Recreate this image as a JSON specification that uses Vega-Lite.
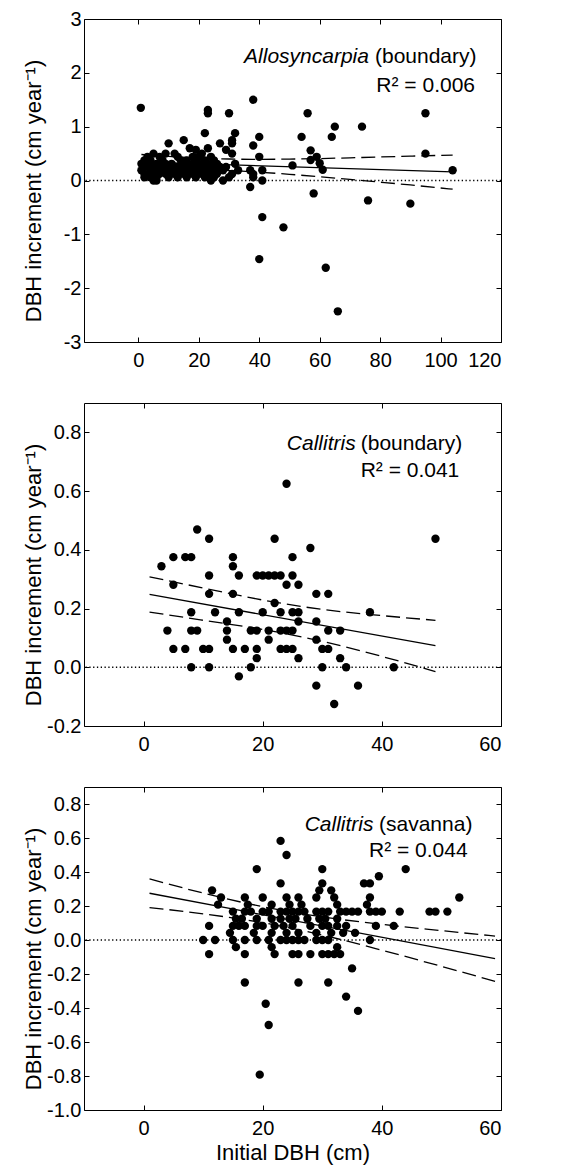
{
  "$schema": "https://vega.github.io/schema/vega-lite/v6.json",
  "padding": {"left": 21, "top": 8, "right": 5, "bottom": 5},
  "bounds": "flush",
  "spacing": 61,
  "config": {
    "font": "Liberation Sans",
    "view": {"stroke": "black", "strokeWidth": 1},
    "axis": {
      "grid": false, "domain": false, "ticks": true, "tickSize": -5, "tickColor": "black", "tickWidth": 1,
      "labelFont": "Liberation Sans", "labelFontSize": 20, "labelColor": "black",
      "titleFont": "Liberation Sans", "titleFontSize": 22, "titleFontWeight": "normal", "titleColor": "black"
    },
    "axisX": {"labelPadding": 13, "titlePadding": 4},
    "axisY": {"labelPadding": 8, "titlePadding": 9, "minExtent": 30, "maxExtent": 30, "titleY": 171.5},
    "text": {"font": "Liberation Sans", "fontSize": 21, "color": "black", "baseline": "alphabetic"}
  },
  "vconcat": [
    {
      "width": 417, "height": 323,
      "resolve": {"axis": {"x": "independent", "y": "independent"}},
      "layer": [
        {
          "data": {"values": [{}]},
          "mark": {"type": "rule", "strokeDash": [1.3, 2.5], "strokeWidth": 1.3, "color": "black"},
          "encoding": {"y": {"datum": 0, "type": "quantitative", "axis": null}}
        },
        {
          "data": {"values": [
            {"dbh": 0.8, "inc": 1.35}, {"dbh": 38, "inc": 1.5}, {"dbh": 23, "inc": 1.31}, {"dbh": 23, "inc": 1.25}, {"dbh": 30, "inc": 1.25}, {"dbh": 56, "inc": 1.25}, {"dbh": 95, "inc": 1.25}, {"dbh": 65, "inc": 1.0}, {"dbh": 74, "inc": 1.0}, {"dbh": 54, "inc": 0.81}, {"dbh": 64, "inc": 0.81}, {"dbh": 40, "inc": 0.81}, {"dbh": 22, "inc": 0.88}, {"dbh": 32, "inc": 0.88}, {"dbh": 31, "inc": 0.75}, {"dbh": 31, "inc": 0.69}, {"dbh": 15, "inc": 0.75}, {"dbh": 10, "inc": 0.69}, {"dbh": 27, "inc": 0.69}, {"dbh": 38, "inc": 0.65}, {"dbh": 17, "inc": 0.6}, {"dbh": 19, "inc": 0.57}, {"dbh": 23, "inc": 0.6}, {"dbh": 29, "inc": 0.57}, {"dbh": 5, "inc": 0.5}, {"dbh": 9, "inc": 0.5}, {"dbh": 12, "inc": 0.5}, {"dbh": 21, "inc": 0.5}, {"dbh": 31, "inc": 0.5}, {"dbh": 40, "inc": 0.44}, {"dbh": 57, "inc": 0.56}, {"dbh": 59, "inc": 0.44}, {"dbh": 57, "inc": 0.38}, {"dbh": 60, "inc": 0.32}, {"dbh": 51, "inc": 0.28}, {"dbh": 61, "inc": 0.2}, {"dbh": 95, "inc": 0.5}, {"dbh": 104, "inc": 0.19},
            {"dbh": 32, "inc": 0.31}, {"dbh": 33, "inc": 0.19}, {"dbh": 31, "inc": 0.12}, {"dbh": 37, "inc": 0.19}, {"dbh": 38, "inc": 0.12}, {"dbh": 38, "inc": 0.06}, {"dbh": 41, "inc": 0.19}, {"dbh": 41, "inc": 0.0}, {"dbh": 37, "inc": -0.12}, {"dbh": 28, "inc": 0.0},
            {"dbh": 58, "inc": -0.24}, {"dbh": 76, "inc": -0.37}, {"dbh": 90, "inc": -0.43}, {"dbh": 41, "inc": -0.68}, {"dbh": 48, "inc": -0.87}, {"dbh": 40, "inc": -1.46}, {"dbh": 62, "inc": -1.62}, {"dbh": 66, "inc": -2.43},
            {"dbh": 3, "inc": 0.44}, {"dbh": 7, "inc": 0.44}, {"dbh": 13, "inc": 0.44}, {"dbh": 18, "inc": 0.44}, {"dbh": 20, "inc": 0.44}, {"dbh": 24, "inc": 0.44},
            {"dbh": 2, "inc": 0.375}, {"dbh": 4, "inc": 0.375}, {"dbh": 8, "inc": 0.375}, {"dbh": 14, "inc": 0.375}, {"dbh": 16, "inc": 0.375}, {"dbh": 19, "inc": 0.375}, {"dbh": 22, "inc": 0.375}, {"dbh": 25, "inc": 0.375},
            {"dbh": 1, "inc": 0.31}, {"dbh": 3, "inc": 0.31}, {"dbh": 6, "inc": 0.31}, {"dbh": 9, "inc": 0.31}, {"dbh": 11, "inc": 0.31}, {"dbh": 15, "inc": 0.31}, {"dbh": 18, "inc": 0.31}, {"dbh": 21, "inc": 0.31}, {"dbh": 23, "inc": 0.31}, {"dbh": 26, "inc": 0.31},
            {"dbh": 2, "inc": 0.25}, {"dbh": 5, "inc": 0.25}, {"dbh": 7, "inc": 0.25}, {"dbh": 10, "inc": 0.25}, {"dbh": 13, "inc": 0.25}, {"dbh": 16, "inc": 0.25}, {"dbh": 19, "inc": 0.25}, {"dbh": 22, "inc": 0.25}, {"dbh": 24, "inc": 0.25}, {"dbh": 27, "inc": 0.25}, {"dbh": 29, "inc": 0.25},
            {"dbh": 1, "inc": 0.19}, {"dbh": 4, "inc": 0.19}, {"dbh": 6, "inc": 0.19}, {"dbh": 8, "inc": 0.19}, {"dbh": 11, "inc": 0.19}, {"dbh": 14, "inc": 0.19}, {"dbh": 17, "inc": 0.19}, {"dbh": 20, "inc": 0.19}, {"dbh": 23, "inc": 0.19}, {"dbh": 25, "inc": 0.19}, {"dbh": 28, "inc": 0.19},
            {"dbh": 2, "inc": 0.125}, {"dbh": 5, "inc": 0.125}, {"dbh": 7, "inc": 0.125}, {"dbh": 9, "inc": 0.125}, {"dbh": 12, "inc": 0.125}, {"dbh": 15, "inc": 0.125}, {"dbh": 18, "inc": 0.125}, {"dbh": 21, "inc": 0.125}, {"dbh": 24, "inc": 0.125}, {"dbh": 26, "inc": 0.125},
            {"dbh": 2, "inc": 0.06}, {"dbh": 4, "inc": 0.06}, {"dbh": 6, "inc": 0.06}, {"dbh": 10, "inc": 0.06}, {"dbh": 13, "inc": 0.06}, {"dbh": 16, "inc": 0.06}, {"dbh": 19, "inc": 0.06}, {"dbh": 22, "inc": 0.06}, {"dbh": 25, "inc": 0.06}, {"dbh": 30, "inc": 0.06},
            {"dbh": 5, "inc": 0.0}, {"dbh": 6, "inc": 0.0}, {"dbh": 24, "inc": 0.0}
          ]},
          "mark": {"type": "circle", "size": 70, "color": "black", "opacity": 1},
          "encoding": {
            "x": {"field": "dbh", "type": "quantitative", "scale": {"domain": [-18, 120], "nice": false, "zero": false},
                  "axis": {"orient": "bottom", "values": [0, 20, 40, 60, 80, 100, 120], "title": null}},
            "y": {"field": "inc", "type": "quantitative", "scale": {"domain": [-3, 3], "nice": false, "zero": false},
                  "axis": {"orient": "left", "values": [-3, -2, -1, 0, 1, 2, 3], "title": "DBH increment (cm year⁻¹)", "labelExpr": "replace(datum.label, '−', '-')"}}
          }
        },
        {
          "data": {"values": [{"dbh": 1, "inc": 0.344}, {"dbh": 104, "inc": 0.16}]},
          "mark": {"type": "line", "color": "black", "strokeWidth": 1.3},
          "encoding": {
            "x": {"field": "dbh", "type": "quantitative", "axis": {"orient": "top", "labels": false, "title": null, "values": [0, 20, 40, 60, 80, 100, 120]}},
            "y": {"field": "inc", "type": "quantitative", "axis": {"orient": "right", "labels": false, "title": null, "values": [-3, -2, -1, 0, 1, 2, 3]}}
          }
        },
        {
          "data": {"values": [
            {"band": "upper", "dbh": 1, "inc": 0.483}, {"band": "upper", "dbh": 10, "inc": 0.447}, {"band": "upper", "dbh": 20, "inc": 0.417}, {"band": "upper", "dbh": 30, "inc": 0.399}, {"band": "upper", "dbh": 40, "inc": 0.393}, {"band": "upper", "dbh": 50, "inc": 0.398}, {"band": "upper", "dbh": 60, "inc": 0.407}, {"band": "upper", "dbh": 70, "inc": 0.421}, {"band": "upper", "dbh": 80, "inc": 0.437}, {"band": "upper", "dbh": 90, "inc": 0.453}, {"band": "upper", "dbh": 104, "inc": 0.472},
            {"band": "lower", "dbh": 1, "inc": 0.205}, {"band": "lower", "dbh": 10, "inc": 0.209}, {"band": "lower", "dbh": 20, "inc": 0.203}, {"band": "lower", "dbh": 30, "inc": 0.185}, {"band": "lower", "dbh": 40, "inc": 0.155}, {"band": "lower", "dbh": 50, "inc": 0.115}, {"band": "lower", "dbh": 60, "inc": 0.069}, {"band": "lower", "dbh": 70, "inc": 0.019}, {"band": "lower", "dbh": 80, "inc": -0.031}, {"band": "lower", "dbh": 90, "inc": -0.083}, {"band": "lower", "dbh": 104, "inc": -0.162}
          ]},
          "mark": {"type": "line", "color": "black", "strokeWidth": 1.3, "strokeDash": [14, 6], "interpolate": "monotone"},
          "encoding": {
            "x": {"field": "dbh", "type": "quantitative", "axis": null},
            "y": {"field": "inc", "type": "quantitative", "axis": null},
            "detail": {"field": "band"}
          }
        },
        {
          "data": {"values": [{}]},
          "mark": {"type": "text", "text": "Allosyncarpia", "fontStyle": "italic", "align": "right"},
          "encoding": {"x": {"datum": 76.3, "type": "quantitative", "axis": null}, "y": {"datum": 2.18, "type": "quantitative", "axis": null}}
        },
        {
          "data": {"values": [{}]},
          "mark": {"type": "text", "text": "(boundary)", "align": "right"},
          "encoding": {"x": {"datum": 111.9, "type": "quantitative", "axis": null}, "y": {"datum": 2.18, "type": "quantitative", "axis": null}}
        },
        {
          "data": {"values": [{}]},
          "mark": {"type": "text", "text": "R² = 0.006", "align": "right"},
          "encoding": {"x": {"datum": 111.4, "type": "quantitative", "axis": null}, "y": {"datum": 1.65, "type": "quantitative", "axis": null}}
        }
      ]
    },
    {
      "width": 417, "height": 323,
      "resolve": {"axis": {"x": "independent", "y": "independent"}},
      "layer": [
        {
          "data": {"values": [{}]},
          "mark": {"type": "rule", "strokeDash": [1.3, 2.5], "strokeWidth": 1.3, "color": "black"},
          "encoding": {"y": {"datum": 0, "type": "quantitative", "axis": null}}
        },
        {
          "data": {"values": [
            {"dbh": 3, "inc": 0.344}, {"dbh": 5, "inc": 0.375}, {"dbh": 7, "inc": 0.375}, {"dbh": 8, "inc": 0.375}, {"dbh": 9, "inc": 0.469}, {"dbh": 11, "inc": 0.4375}, {"dbh": 5, "inc": 0.281}, {"dbh": 11, "inc": 0.3125}, {"dbh": 11, "inc": 0.25}, {"dbh": 8, "inc": 0.1875}, {"dbh": 8, "inc": 0.125}, {"dbh": 9, "inc": 0.125}, {"dbh": 4, "inc": 0.125}, {"dbh": 5, "inc": 0.0625}, {"dbh": 7, "inc": 0.0625}, {"dbh": 8, "inc": 0}, {"dbh": 10, "inc": 0.0625}, {"dbh": 11, "inc": 0.0625}, {"dbh": 11, "inc": 0}, {"dbh": 12, "inc": 0.1875},
            {"dbh": 15, "inc": 0.375}, {"dbh": 15, "inc": 0.344}, {"dbh": 15, "inc": 0.25}, {"dbh": 16, "inc": 0.3125}, {"dbh": 16, "inc": 0.1875}, {"dbh": 14, "inc": 0.156}, {"dbh": 14, "inc": 0.125}, {"dbh": 14, "inc": 0.094}, {"dbh": 15, "inc": 0.0625}, {"dbh": 17, "inc": 0.0625}, {"dbh": 16, "inc": -0.031}, {"dbh": 18, "inc": 0.125}, {"dbh": 18, "inc": 0}, {"dbh": 19, "inc": 0.125}, {"dbh": 19, "inc": 0.0625}, {"dbh": 19, "inc": 0.031},
            {"dbh": 19, "inc": 0.3125}, {"dbh": 20, "inc": 0.3125}, {"dbh": 21, "inc": 0.3125}, {"dbh": 22, "inc": 0.3125}, {"dbh": 23, "inc": 0.3125}, {"dbh": 22, "inc": 0.4375}, {"dbh": 22, "inc": 0.219}, {"dbh": 20, "inc": 0.1875}, {"dbh": 21, "inc": 0.125}, {"dbh": 21, "inc": 0.094}, {"dbh": 23, "inc": 0.1875}, {"dbh": 23, "inc": 0.125}, {"dbh": 24, "inc": 0.125}, {"dbh": 25, "inc": 0.125}, {"dbh": 23, "inc": 0.0625}, {"dbh": 24, "inc": 0.0625}, {"dbh": 25, "inc": 0.0625},
            {"dbh": 24, "inc": 0.625}, {"dbh": 24, "inc": 0.281}, {"dbh": 25, "inc": 0.375}, {"dbh": 25, "inc": 0.3125}, {"dbh": 25, "inc": 0.1875}, {"dbh": 26, "inc": 0.1875}, {"dbh": 26, "inc": 0.281}, {"dbh": 26, "inc": 0.156}, {"dbh": 26, "inc": 0.031}, {"dbh": 28, "inc": 0.406},
            {"dbh": 29, "inc": 0.25}, {"dbh": 29, "inc": 0.156}, {"dbh": 29, "inc": 0.094}, {"dbh": 29, "inc": -0.0625}, {"dbh": 30, "inc": 0.0625}, {"dbh": 30, "inc": 0}, {"dbh": 31, "inc": 0.25}, {"dbh": 31, "inc": 0.125}, {"dbh": 31, "inc": 0.0625}, {"dbh": 32, "inc": -0.125}, {"dbh": 33, "inc": 0.125}, {"dbh": 33, "inc": 0.031}, {"dbh": 34, "inc": 0}, {"dbh": 36, "inc": -0.0625}, {"dbh": 38, "inc": 0.1875}, {"dbh": 42, "inc": 0}, {"dbh": 49, "inc": 0.4375}
          ]},
          "mark": {"type": "circle", "size": 70, "color": "black", "opacity": 1},
          "encoding": {
            "x": {"field": "dbh", "type": "quantitative", "scale": {"domain": [-10, 60], "nice": false, "zero": false},
                  "axis": {"orient": "bottom", "values": [0, 20, 40, 60], "title": null}},
            "y": {"field": "inc", "type": "quantitative", "scale": {"domain": [-0.2, 0.9], "nice": false, "zero": false},
                  "axis": {"orient": "left", "values": [-0.2, 0, 0.2, 0.4, 0.6, 0.8], "format": ".1f", "title": "DBH increment (cm year⁻¹)", "labelExpr": "replace(datum.label, '−', '-')"}}
          }
        },
        {
          "data": {"values": [{"dbh": 1, "inc": 0.248}, {"dbh": 49, "inc": 0.074}]},
          "mark": {"type": "line", "color": "black", "strokeWidth": 1.3},
          "encoding": {
            "x": {"field": "dbh", "type": "quantitative", "axis": {"orient": "top", "labels": false, "title": null, "values": [0, 20, 40, 60]}},
            "y": {"field": "inc", "type": "quantitative", "axis": {"orient": "right", "labels": false, "title": null, "values": [-0.2, 0, 0.2, 0.4, 0.6, 0.8]}}
          }
        },
        {
          "data": {"values": [
            {"band": "upper", "dbh": 1, "inc": 0.308}, {"band": "upper", "dbh": 10, "inc": 0.270}, {"band": "upper", "dbh": 20, "inc": 0.229}, {"band": "upper", "dbh": 30, "inc": 0.197}, {"band": "upper", "dbh": 40, "inc": 0.176}, {"band": "upper", "dbh": 49, "inc": 0.160},
            {"band": "lower", "dbh": 1, "inc": 0.188}, {"band": "lower", "dbh": 10, "inc": 0.160}, {"band": "lower", "dbh": 20, "inc": 0.129}, {"band": "lower", "dbh": 30, "inc": 0.088}, {"band": "lower", "dbh": 40, "inc": 0.037}, {"band": "lower", "dbh": 49, "inc": -0.015}
          ]},
          "mark": {"type": "line", "color": "black", "strokeWidth": 1.3, "strokeDash": [14, 6], "interpolate": "monotone"},
          "encoding": {
            "x": {"field": "dbh", "type": "quantitative", "axis": null},
            "y": {"field": "inc", "type": "quantitative", "axis": null},
            "detail": {"field": "band"}
          }
        },
        {
          "data": {"values": [{}]},
          "mark": {"type": "text", "text": "Callitris", "fontStyle": "italic", "align": "right"},
          "encoding": {"x": {"datum": 35.6, "type": "quantitative", "axis": null}, "y": {"datum": 0.739, "type": "quantitative", "axis": null}}
        },
        {
          "data": {"values": [{}]},
          "mark": {"type": "text", "text": "(boundary)", "align": "right"},
          "encoding": {"x": {"datum": 53.5, "type": "quantitative", "axis": null}, "y": {"datum": 0.739, "type": "quantitative", "axis": null}}
        },
        {
          "data": {"values": [{}]},
          "mark": {"type": "text", "text": "R² = 0.041", "align": "right"},
          "encoding": {"x": {"datum": 53.0, "type": "quantitative", "axis": null}, "y": {"datum": 0.648, "type": "quantitative", "axis": null}}
        }
      ]
    },
    {
      "width": 417, "height": 323,
      "resolve": {"axis": {"x": "independent", "y": "independent"}},
      "layer": [
        {
          "data": {"values": [{}]},
          "mark": {"type": "rule", "strokeDash": [1.3, 2.5], "strokeWidth": 1.3, "color": "black"},
          "encoding": {"y": {"datum": 0, "type": "quantitative", "axis": null}}
        },
        {
          "data": {"values": [
            {"dbh": 23, "inc": 0.583}, {"dbh": 24, "inc": 0.5}, {"dbh": 19, "inc": 0.417}, {"dbh": 30, "inc": 0.417}, {"dbh": 44, "inc": 0.417}, {"dbh": 23, "inc": 0.333}, {"dbh": 30, "inc": 0.333}, {"dbh": 37, "inc": 0.333}, {"dbh": 38, "inc": 0.333}, {"dbh": 39.5, "inc": 0.375}, {"dbh": 11.5, "inc": 0.292}, {"dbh": 29.5, "inc": 0.292}, {"dbh": 31.5, "inc": 0.292},
            {"dbh": 13, "inc": 0.25}, {"dbh": 17, "inc": 0.25}, {"dbh": 20, "inc": 0.25}, {"dbh": 24, "inc": 0.25}, {"dbh": 26, "inc": 0.25}, {"dbh": 29, "inc": 0.25}, {"dbh": 32, "inc": 0.25}, {"dbh": 38, "inc": 0.25}, {"dbh": 53, "inc": 0.25},
            {"dbh": 12.5, "inc": 0.208}, {"dbh": 17.5, "inc": 0.208}, {"dbh": 21.5, "inc": 0.208}, {"dbh": 24.5, "inc": 0.208}, {"dbh": 26.5, "inc": 0.208}, {"dbh": 32.5, "inc": 0.208}, {"dbh": 37.5, "inc": 0.208},
            {"dbh": 15, "inc": 0.167}, {"dbh": 17, "inc": 0.167}, {"dbh": 18, "inc": 0.167}, {"dbh": 20, "inc": 0.167}, {"dbh": 21, "inc": 0.167}, {"dbh": 23, "inc": 0.167}, {"dbh": 24, "inc": 0.167}, {"dbh": 25, "inc": 0.167}, {"dbh": 26, "inc": 0.167}, {"dbh": 27, "inc": 0.167}, {"dbh": 29, "inc": 0.167}, {"dbh": 30, "inc": 0.167}, {"dbh": 31, "inc": 0.167}, {"dbh": 33, "inc": 0.167}, {"dbh": 34, "inc": 0.167}, {"dbh": 35, "inc": 0.167}, {"dbh": 36, "inc": 0.167}, {"dbh": 38, "inc": 0.167}, {"dbh": 39, "inc": 0.167}, {"dbh": 40, "inc": 0.167}, {"dbh": 43, "inc": 0.167}, {"dbh": 48, "inc": 0.167}, {"dbh": 49, "inc": 0.167}, {"dbh": 51, "inc": 0.167},
            {"dbh": 15.5, "inc": 0.125}, {"dbh": 16.5, "inc": 0.125}, {"dbh": 19, "inc": 0.125}, {"dbh": 21.5, "inc": 0.125}, {"dbh": 23, "inc": 0.125}, {"dbh": 24.5, "inc": 0.125}, {"dbh": 25.5, "inc": 0.125}, {"dbh": 27.5, "inc": 0.125}, {"dbh": 29.5, "inc": 0.125}, {"dbh": 30.5, "inc": 0.125}, {"dbh": 32.5, "inc": 0.125},
            {"dbh": 11, "inc": 0.083}, {"dbh": 15, "inc": 0.083}, {"dbh": 16, "inc": 0.083}, {"dbh": 17, "inc": 0.083}, {"dbh": 19, "inc": 0.083}, {"dbh": 20, "inc": 0.083}, {"dbh": 22, "inc": 0.083}, {"dbh": 23.5, "inc": 0.083}, {"dbh": 25, "inc": 0.083}, {"dbh": 28, "inc": 0.083}, {"dbh": 30, "inc": 0.083}, {"dbh": 31, "inc": 0.083}, {"dbh": 32.5, "inc": 0.083}, {"dbh": 34, "inc": 0.083}, {"dbh": 39, "inc": 0.083}, {"dbh": 42, "inc": 0.083},
            {"dbh": 14.5, "inc": 0.042}, {"dbh": 18.5, "inc": 0.042}, {"dbh": 21.5, "inc": 0.042}, {"dbh": 24, "inc": 0.042}, {"dbh": 26, "inc": 0.042}, {"dbh": 29, "inc": 0.042}, {"dbh": 31.5, "inc": 0.042}, {"dbh": 33.5, "inc": 0.042}, {"dbh": 35.5, "inc": 0.042},
            {"dbh": 10, "inc": 0}, {"dbh": 12, "inc": 0}, {"dbh": 15, "inc": 0}, {"dbh": 17, "inc": 0}, {"dbh": 19, "inc": 0}, {"dbh": 21, "inc": 0}, {"dbh": 23, "inc": 0}, {"dbh": 24, "inc": 0}, {"dbh": 25, "inc": 0}, {"dbh": 26, "inc": 0}, {"dbh": 27, "inc": 0}, {"dbh": 29, "inc": 0}, {"dbh": 30, "inc": 0}, {"dbh": 31, "inc": 0}, {"dbh": 38, "inc": 0},
            {"dbh": 15.5, "inc": -0.042}, {"dbh": 21.5, "inc": -0.042}, {"dbh": 32.5, "inc": -0.042},
            {"dbh": 11, "inc": -0.083}, {"dbh": 17, "inc": -0.083}, {"dbh": 22, "inc": -0.083}, {"dbh": 25, "inc": -0.083}, {"dbh": 26, "inc": -0.083}, {"dbh": 28, "inc": -0.083}, {"dbh": 30, "inc": -0.083}, {"dbh": 31, "inc": -0.083}, {"dbh": 32, "inc": -0.083}, {"dbh": 33, "inc": -0.083},
            {"dbh": 35, "inc": -0.167}, {"dbh": 17, "inc": -0.25}, {"dbh": 26, "inc": -0.25}, {"dbh": 31, "inc": -0.25}, {"dbh": 34, "inc": -0.333}, {"dbh": 36, "inc": -0.417}, {"dbh": 20.5, "inc": -0.375}, {"dbh": 21, "inc": -0.5}, {"dbh": 19.5, "inc": -0.792}
          ]},
          "mark": {"type": "circle", "size": 70, "color": "black", "opacity": 1},
          "encoding": {
            "x": {"field": "dbh", "type": "quantitative", "scale": {"domain": [-10, 60], "nice": false, "zero": false},
                  "axis": {"orient": "bottom", "values": [0, 20, 40, 60], "title": "Initial DBH (cm)"}},
            "y": {"field": "inc", "type": "quantitative", "scale": {"domain": [-1.0, 0.9], "nice": false, "zero": false},
                  "axis": {"orient": "left", "values": [-1.0, -0.8, -0.6, -0.4, -0.2, 0, 0.2, 0.4, 0.6, 0.8], "format": ".1f", "title": "DBH increment (cm year⁻¹)", "labelExpr": "replace(datum.label, '−', '-')"}}
          }
        },
        {
          "data": {"values": [{"dbh": 1, "inc": 0.275}, {"dbh": 59, "inc": -0.110}]},
          "mark": {"type": "line", "color": "black", "strokeWidth": 1.3},
          "encoding": {
            "x": {"field": "dbh", "type": "quantitative", "axis": {"orient": "top", "labels": false, "title": null, "values": [0, 20, 40, 60]}},
            "y": {"field": "inc", "type": "quantitative", "axis": {"orient": "right", "labels": false, "title": null, "values": [-1.0, -0.8, -0.6, -0.4, -0.2, 0, 0.2, 0.4, 0.6, 0.8]}}
          }
        },
        {
          "data": {"values": [
            {"band": "upper", "dbh": 1, "inc": 0.360}, {"band": "upper", "dbh": 10, "inc": 0.276}, {"band": "upper", "dbh": 20, "inc": 0.196}, {"band": "upper", "dbh": 30, "inc": 0.136}, {"band": "upper", "dbh": 40, "inc": 0.092}, {"band": "upper", "dbh": 50, "inc": 0.055}, {"band": "upper", "dbh": 59, "inc": 0.023},
            {"band": "lower", "dbh": 1, "inc": 0.191}, {"band": "lower", "dbh": 10, "inc": 0.154}, {"band": "lower", "dbh": 20, "inc": 0.102}, {"band": "lower", "dbh": 30, "inc": 0.029}, {"band": "lower", "dbh": 40, "inc": -0.060}, {"band": "lower", "dbh": 50, "inc": -0.155}, {"band": "lower", "dbh": 59, "inc": -0.243}
          ]},
          "mark": {"type": "line", "color": "black", "strokeWidth": 1.3, "strokeDash": [14, 6], "interpolate": "monotone"},
          "encoding": {
            "x": {"field": "dbh", "type": "quantitative", "axis": null},
            "y": {"field": "inc", "type": "quantitative", "axis": null},
            "detail": {"field": "band"}
          }
        },
        {
          "data": {"values": [{}]},
          "mark": {"type": "text", "text": "Callitris", "fontStyle": "italic", "align": "right"},
          "encoding": {"x": {"datum": 38.6, "type": "quantitative", "axis": null}, "y": {"datum": 0.643, "type": "quantitative", "axis": null}}
        },
        {
          "data": {"values": [{}]},
          "mark": {"type": "text", "text": "(savanna)", "align": "right"},
          "encoding": {"x": {"datum": 55.2, "type": "quantitative", "axis": null}, "y": {"datum": 0.643, "type": "quantitative", "axis": null}}
        },
        {
          "data": {"values": [{}]},
          "mark": {"type": "text", "text": "R² = 0.044", "align": "right"},
          "encoding": {"x": {"datum": 54.4, "type": "quantitative", "axis": null}, "y": {"datum": 0.486, "type": "quantitative", "axis": null}}
        }
      ]
    }
  ]
}
